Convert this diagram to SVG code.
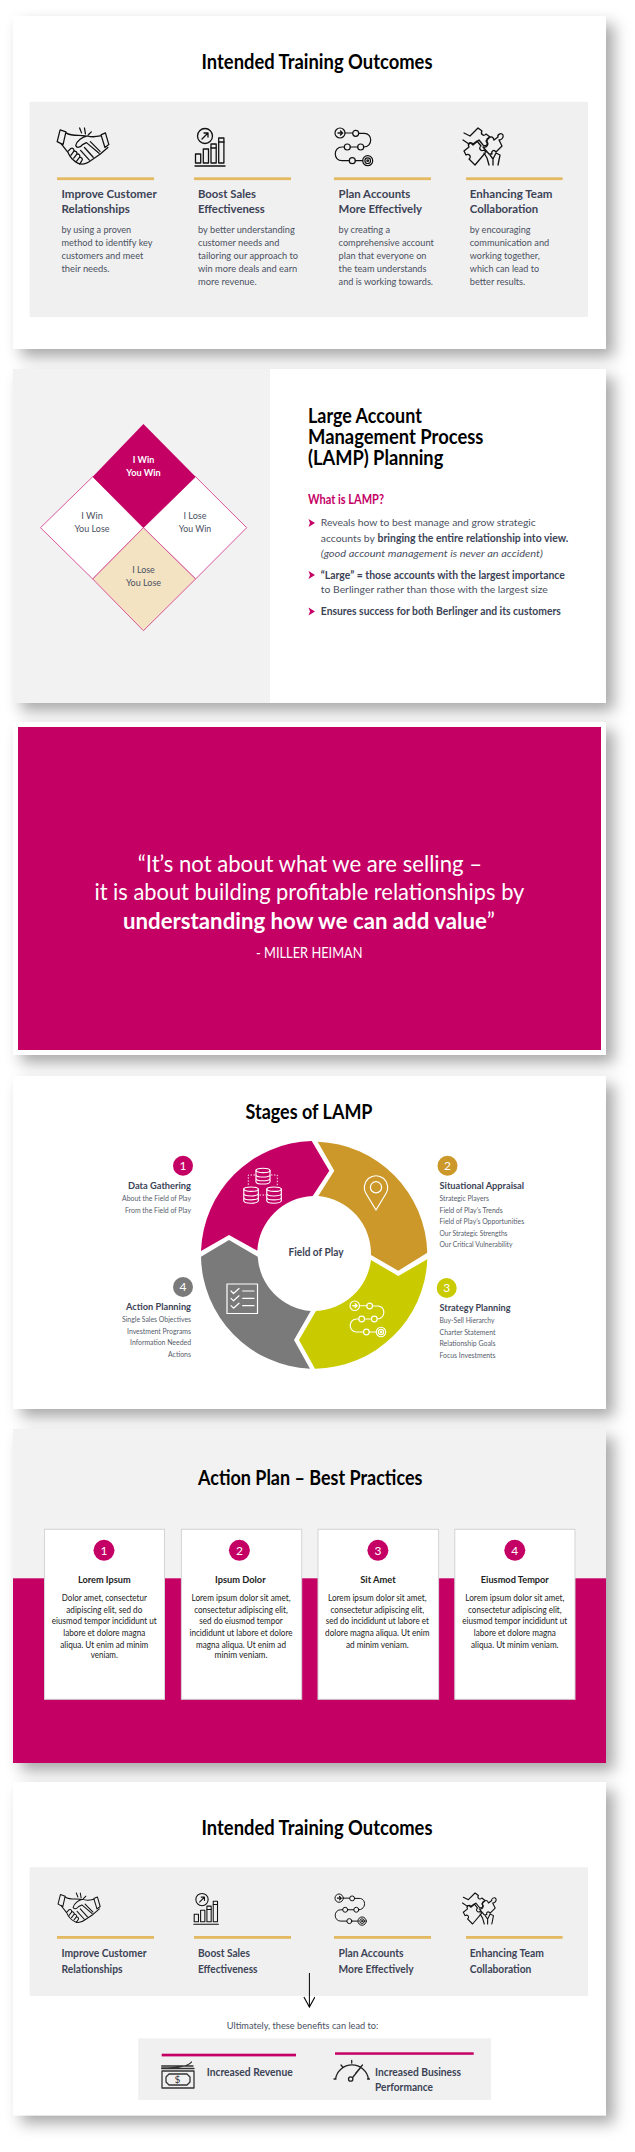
<svg xmlns="http://www.w3.org/2000/svg" xmlns:xlink="http://www.w3.org/1999/xlink" width="635" height="2152" viewBox="0 0 635 2152">
<style>
text{font-family:Lato,"Liberation Sans",sans-serif;}
.t{font-size:20px;font-weight:700;fill:#000;text-anchor:middle}
.tl{font-size:20px;font-weight:700;fill:#000}
.h{font-size:12px;font-weight:700;fill:#3c4356}
.h6{font-size:11px;font-weight:700;fill:#3c4356}
.b{font-size:10.200px;fill:#4b5162}
.gold{fill:#e3b962}
.pink{fill:#c40065}
.i{fill:none;stroke:#111;stroke-width:1.300;stroke-linecap:round;stroke-linejoin:round}
.w{fill:none;stroke:#fff;stroke-width:1.200;stroke-linecap:round;stroke-linejoin:round}
.d{font-size:9.400px;fill:#4b5162;text-anchor:middle}
.q{font-size:22.500px;fill:#fff}
.s{font-size:8px;fill:#565c6b}
.sb{font-size:8.600px;font-weight:700;fill:#3c4356}
.sb2{font-size:9.800px;font-weight:700;fill:#3c4356}
.n{font-size:12px;fill:#fff;text-anchor:middle}
.cb{font-size:8.800px;fill:#222;text-anchor:middle}
.ch{font-size:10px;font-weight:700;fill:#222;text-anchor:middle}
.end{text-anchor:end}
.lb{font-size:10.400px;fill:#4b5162}
.lbb{font-size:10.400px;font-weight:700;fill:#3c4356}
</style>
<defs>
<filter id="sh" x="-10%" y="-10%" width="125%" height="125%"><feDropShadow dx="8" dy="8" stdDeviation="7.500" flood-color="#000" flood-opacity="0.34"/></filter>
<marker id="open" viewBox="0 0 12 12" refX="11" refY="6" markerWidth="12" markerHeight="12" markerUnits="userSpaceOnUse" orient="auto"><path d="M1 0.500 L11 6 L1 11.500" fill="none" stroke="#000" stroke-width="1.100"/></marker>
<symbol id="hand" viewBox="0 0 54 39" overflow="visible">
<path class="i" d="M3 2 L0 14 L6 17 L9 4 Z M45 7 L49.500 5 L53 17 L49 20 Z M23 0 L25 5 M28 0 L29 6 M35 4 L32 7"/>
<path class="i" d="M9 5 C15 9 22 7 29 8 M45 8 C40 9 36 10 31 8 C26 9 20 13 19 18 C20 21 24 20 26 17 L30 15 L43 26"/>
<path class="i" d="M52 20 L44 27 L35 33 C30 37 25 38 21 36 C17 34 13 30 11 25 L4 16"/>
<path class="i" d="M11 24 L14 21 C16 20 18 22 17 24 L14 28 M17 24 C19 23 21 25 20 27 L17 31 M20 27 C22 26 24 28 23 30 L20 34 M23 30 C25 30 27 32 25 34 L23 37 M28 20 L37 30 M24 23 L33 33 M34 14 L44 24"/>
</symbol>
<symbol id="bars" viewBox="0 0 30 39" overflow="visible">
<circle class="i" cx="10" cy="8" r="7.500"/>
<path class="i" d="M7 11 L13 5 M9 5 H13 V9"/>
<rect class="i" x="0.500" y="26" width="5.200" height="9"/><rect class="i" x="8.300" y="21" width="5.200" height="14"/><rect class="i" x="16" y="16" width="5.200" height="19"/><rect class="i" x="23.700" y="10" width="5.200" height="25"/>
<path class="i" d="M16 20 H21 M23.700 14 H29"/>
<path class="i" d="M0 38 H30"/>
</symbol>
<symbol id="route" viewBox="0 0 38 38" overflow="visible">
<g style="fill:none;stroke:currentColor;stroke-width:1.200;stroke-linecap:round">
<circle cx="5" cy="5" r="5"/><path d="M3 5 H7 M5.500 3 L7.500 5 L5.500 7" stroke-width="1.400"/>
<circle cx="20.700" cy="5.300" r="3"/><circle cx="25.700" cy="19" r="3"/><circle cx="12.300" cy="19" r="3"/><circle cx="17.300" cy="32.700" r="3"/>
<circle cx="32.700" cy="32.700" r="5"/><circle cx="32.700" cy="32.700" r="2.800"/><circle cx="32.700" cy="32.700" r="0.800"/>
<path d="M10 5 H17.700 M23.700 5.300 H29 C38 5 38 19 28.700 19 M22.700 19 H15.300 M9.300 19 H7 C-2 19 -2 32.700 7 32.700 H14.300 M20.300 32.700 H27.700"/>
</g>
</symbol>
<symbol id="puzzle" viewBox="0 0 40 39" overflow="visible">
<path class="i" d="M1 24 L6 20 C4 17 8 14 10 17 L14 14 L18 19 C15 21 18 25 21 23 L23 25 L12 38 L6 32 C9 30 6 26 3 28 Z"/>
<path class="i" d="M1 6 L7 9 L15 1 L19 4 C17 7 21 10 23 7 L27 10 L23 14 C26 17 23 20 20 18 L16 13 L10 18 C8 16 6 15 6 17 M0 13 L6 17"/>
<path class="i" d="M24 12 C27 9 30 9 31 13 L35 10 C34 8 38 5 40 8 C41 11 38 13 36 13 L39 19 L33 25 C31 22 28 24 29 27 L26 27 L20 20 C24 21 26 17 24 15 Z"/>
<path class="i" d="M26 38 L24 31 L21 26 M27 28 L30 32 L33 26 L37 28 L35 38 M30 32 L30 38"/>
</symbol>
<symbol id="cyl" viewBox="0 0 16 17" overflow="visible">
<ellipse class="w" cx="8" cy="2.500" rx="7.500" ry="2.300"/>
<path class="w" d="M0.500 2.500 V14.500 C0.500 16 4 17 8 17 C12 17 15.500 16 15.500 14.500 V2.500 M0.500 7 C0.500 8.500 4 9.500 8 9.500 C12 9.500 15.500 8.500 15.500 7 M0.500 11 C0.500 12.500 4 13.500 8 13.500 C12 13.500 15.500 12.500 15.500 11"/>
</symbol>
</defs>
<rect width="635" height="2152" fill="#fff"/>

<g id="slide1">
<rect x="13" y="16" width="593" height="333" fill="#fff" filter="url(#sh)"/>
<text class="t" x="317" y="69" textLength="231" lengthAdjust="spacingAndGlyphs">Intended Training Outcomes</text>
<rect x="29.600" y="101.700" width="558.400" height="215.300" fill="#f0f0f0"/>
<g id="s1-improve">
<use href="#hand" x="57" y="128" width="53" height="38"/>
<rect class="gold" x="57" y="177.300" width="97" height="2.800"/>
<text class="h" x="61.500" y="198" textLength="95.200" lengthAdjust="spacingAndGlyphs">Improve Customer</text>
<text class="h" x="61.500" y="213" textLength="68.400" lengthAdjust="spacingAndGlyphs">Relationships</text>
<text class="b" x="61.500" y="232.700" textLength="69.700" lengthAdjust="spacingAndGlyphs">by using a proven</text>
<text class="b" x="61.500" y="245.500" textLength="91" lengthAdjust="spacingAndGlyphs">method to identify key</text>
<text class="b" x="61.500" y="258.500" textLength="81.800" lengthAdjust="spacingAndGlyphs">customers and meet</text>
<text class="b" x="61.500" y="271.700" textLength="48" lengthAdjust="spacingAndGlyphs">their needs.</text>
</g>
<g id="s1-boost">
<use href="#bars" x="195" y="128" width="30" height="39"/>
<rect class="gold" x="194" y="177.300" width="97" height="2.800"/>
<text class="h" x="198" y="198" textLength="58" lengthAdjust="spacingAndGlyphs">Boost Sales</text>
<text class="h" x="198" y="213" textLength="66.800" lengthAdjust="spacingAndGlyphs">Effectiveness</text>
<text class="b" x="198" y="232.700" textLength="96.800" lengthAdjust="spacingAndGlyphs">by better understanding</text>
<text class="b" x="198" y="245.500" textLength="81.400" lengthAdjust="spacingAndGlyphs">customer needs and</text>
<text class="b" x="198" y="258.500" textLength="100" lengthAdjust="spacingAndGlyphs">tailoring our approach to</text>
<text class="b" x="198" y="271.700" textLength="99.200" lengthAdjust="spacingAndGlyphs">win more deals and earn</text>
<text class="b" x="198" y="284.700" textLength="58.700" lengthAdjust="spacingAndGlyphs">more revenue.</text>
</g>
<g id="s1-plan">
<use href="#route" x="335" y="128" width="38" height="38" style="color:#111"/>
<rect class="gold" x="334" y="177.300" width="97" height="2.800"/>
<text class="h" x="338.600" y="198" textLength="71.700" lengthAdjust="spacingAndGlyphs">Plan Accounts</text>
<text class="h" x="338.600" y="213" textLength="83.400" lengthAdjust="spacingAndGlyphs">More Effectively</text>
<text class="b" x="338.600" y="232.700" textLength="51.400" lengthAdjust="spacingAndGlyphs">by creating a</text>
<text class="b" x="338.600" y="245.500" textLength="95.200" lengthAdjust="spacingAndGlyphs">comprehensive account</text>
<text class="b" x="338.600" y="258.500" textLength="87.900" lengthAdjust="spacingAndGlyphs">plan that everyone on</text>
<text class="b" x="338.600" y="271.700" textLength="87.900" lengthAdjust="spacingAndGlyphs">the team understands</text>
<text class="b" x="338.600" y="284.700" textLength="94.400" lengthAdjust="spacingAndGlyphs">and is working towards.</text>
</g>
<g id="s1-team">
<use href="#puzzle" x="463" y="127" width="40" height="39"/>
<rect class="gold" x="466" y="177.300" width="96.600" height="2.800"/>
<text class="h" x="469.800" y="198" textLength="82.600" lengthAdjust="spacingAndGlyphs">Enhancing Team</text>
<text class="h" x="469.800" y="213" textLength="68.400" lengthAdjust="spacingAndGlyphs">Collaboration</text>
<text class="b" x="469.800" y="232.700" textLength="60.800" lengthAdjust="spacingAndGlyphs">by encouraging</text>
<text class="b" x="469.800" y="245.500" textLength="79.400" lengthAdjust="spacingAndGlyphs">communication and</text>
<text class="b" x="469.800" y="258.500" textLength="70" lengthAdjust="spacingAndGlyphs">working together,</text>
<text class="b" x="469.800" y="271.700" textLength="69.300" lengthAdjust="spacingAndGlyphs">which can lead to</text>
<text class="b" x="469.800" y="284.700" textLength="55.500" lengthAdjust="spacingAndGlyphs">better results.</text>
</g>
</g>

<g id="slide2">
<rect x="13" y="369" width="593" height="334" fill="#fff" filter="url(#sh)"/>
<rect x="13" y="369" width="257" height="334" fill="#f2f2f2"/>
<g id="q-win-lose"><path d="M92.700 476.700 L40.500 527.700 L92.700 579 L143.400 527.700 Z" fill="#fff" stroke="#d9559b"/>
<text class="d" x="92" y="519.300" textLength="21.500" lengthAdjust="spacingAndGlyphs">I Win</text><text class="d" x="92" y="532.300" textLength="35.200" lengthAdjust="spacingAndGlyphs">You Lose</text></g>
<g id="q-lose-win"><path d="M195.600 476.700 L246.700 527.700 L195.600 579 L143.400 527.700 Z" fill="#fff" stroke="#d9559b"/>
<text class="d" x="195" y="519.300" textLength="23" lengthAdjust="spacingAndGlyphs">I Lose</text><text class="d" x="195" y="532.300" textLength="32.400" lengthAdjust="spacingAndGlyphs">You Win</text></g>
<g id="q-lose-lose"><path d="M143.400 527.700 L195.600 579 L143.400 630.700 L92.700 579 Z" fill="#f3e3c2" stroke="#d9559b"/>
<text class="d" x="143.500" y="572.700" textLength="22.700" lengthAdjust="spacingAndGlyphs">I Lose</text><text class="d" x="143.500" y="585.700" textLength="35.200" lengthAdjust="spacingAndGlyphs">You Lose</text></g>
<g id="q-win-win"><path class="pink" d="M143.400 424 L195.600 476.700 L143.400 527.700 L92.700 476.700 Z"/>
<text class="d" style="fill:#fff;font-weight:700" x="143.500" y="462.700" textLength="21.500" lengthAdjust="spacingAndGlyphs">I Win</text><text class="d" style="fill:#fff;font-weight:700" x="143.500" y="475.700" textLength="34.400" lengthAdjust="spacingAndGlyphs">You Win</text></g>
<g id="lamp-text">
<text class="tl" x="308" y="422.700" textLength="113.800" lengthAdjust="spacingAndGlyphs">Large Account</text>
<text class="tl" x="308" y="444" textLength="175.400" lengthAdjust="spacingAndGlyphs">Management Process</text>
<text class="tl" x="308" y="465.300" textLength="135.300" lengthAdjust="spacingAndGlyphs">(LAMP) Planning</text>
<text x="308" y="503.700" font-size="13" font-weight="700" fill="#c40065" textLength="76" lengthAdjust="spacingAndGlyphs">What is LAMP?</text>
<path class="pink" d="M308.500 519 L315 523 L308.500 527 L310 523 Z M308.500 571 L315 575 L308.500 579 L310 575 Z M308.500 607.500 L315 611.500 L308.500 615.500 L310 611.500 Z"/>
<text class="lb" x="320.800" y="526.300" textLength="215" lengthAdjust="spacingAndGlyphs">Reveals how to best manage and grow strategic</text>
<text class="lb" x="320.800" y="541.700" textLength="54" lengthAdjust="spacingAndGlyphs">accounts by</text>
<text class="lbb" x="377.500" y="541.700" textLength="190.800" lengthAdjust="spacingAndGlyphs">bringing the entire relationship into view.</text>
<text class="lb" x="320.800" y="556.700" font-style="italic" textLength="222" lengthAdjust="spacingAndGlyphs">(good account management is never an accident)</text>
<text class="lbb" x="320.800" y="578.700" textLength="244" lengthAdjust="spacingAndGlyphs">“Large” = those accounts with the largest importance</text>
<text class="lb" x="320.800" y="593" textLength="227" lengthAdjust="spacingAndGlyphs">to Berlinger rather than those with the largest size</text>
<text class="lbb" x="320.800" y="615" textLength="240" lengthAdjust="spacingAndGlyphs">Ensures success for both Berlinger and its customers</text>
</g>
</g>

<g id="slide3">
<rect x="13" y="722" width="593" height="333" fill="#fff" filter="url(#sh)"/>
<rect class="pink" x="18" y="727" width="583" height="323"/>
<g id="quote">
<text class="q" x="137.700" y="871.700" textLength="344.300" lengthAdjust="spacingAndGlyphs">“It’s not about what we are selling –</text>
<text class="q" x="94.400" y="900" textLength="430" lengthAdjust="spacingAndGlyphs">it is about building profitable relationships by</text>
<text class="q" x="123" y="928.700" textLength="372" lengthAdjust="spacingAndGlyphs"><tspan font-weight="700">understanding how we can add value</tspan>”</text>
<text class="q" x="256" y="958" style="font-size:15px" textLength="106.500" lengthAdjust="spacingAndGlyphs">- MILLER HEIMAN</text>
</g>
</g>

<g id="slide4">
<rect x="13" y="1076" width="593" height="333" fill="#fff" filter="url(#sh)"/>
<text class="t" x="309" y="1119.300" textLength="127" lengthAdjust="spacingAndGlyphs">Stages of LAMP</text>
<g id="seg1-data-gathering">
<path class="pink" d="M311.700 1141 L329.300 1170.700 L312.700 1196 A58 58 0 0 0 257.300 1250.700 L229 1235 L201 1251 A114 114 0 0 1 311.700 1141 Z"/>
<use href="#cyl" x="255.500" y="1167.300" width="15" height="17.500"/><use href="#cyl" x="243.300" y="1186.500" width="15.500" height="17"/><use href="#cyl" x="266.300" y="1186.500" width="15.500" height="17"/>
<path d="M255 1175 H248.300 V1186 M271 1175 H277.300 V1186 M259.500 1195 H266" fill="none" stroke="#fff" stroke-width="0.900" stroke-dasharray="1.500 1.500"/>
<circle class="pink" cx="183" cy="1165.700" r="10"/><text class="n" x="183" y="1170">1</text>
<text class="sb end" x="191" y="1189" textLength="63" lengthAdjust="spacingAndGlyphs">Data Gathering</text>
<text class="s end" x="191" y="1201" textLength="69" lengthAdjust="spacingAndGlyphs">About the Field of Play</text>
<text class="s end" x="191" y="1212.700" textLength="66" lengthAdjust="spacingAndGlyphs">From the Field of Play</text>
</g>
<g id="seg2-situational-appraisal">
<path fill="#cc9829" d="M317.700 1141.700 A114 114 0 0 1 427.300 1252.700 L398.300 1270.700 L371 1255 A58 58 0 0 0 318.300 1196 L334.300 1170.700 Z"/>
<path class="w" d="M376 1210 L366 1193.500 A11.700 11.700 0 1 1 386 1193.500 Z"/><circle class="w" cx="376" cy="1187.300" r="5.600"/>
<circle cx="447.500" cy="1165.700" r="10" fill="#cc9829"/><text class="n" x="447.500" y="1170">2</text>
<text class="sb" x="439.500" y="1189" textLength="84.600" lengthAdjust="spacingAndGlyphs">Situational Appraisal</text>
<text class="s" x="439.500" y="1201" textLength="49.400" lengthAdjust="spacingAndGlyphs">Strategic Players</text>
<text class="s" x="439.500" y="1212.700" textLength="63.200" lengthAdjust="spacingAndGlyphs">Field of Play’s Trends</text>
<text class="s" x="439.500" y="1224" textLength="84.600" lengthAdjust="spacingAndGlyphs">Field of Play’s Opportunities</text>
<text class="s" x="439.500" y="1235.700" textLength="68" lengthAdjust="spacingAndGlyphs">Our Strategic Strengths</text>
<text class="s" x="439.500" y="1247" textLength="73" lengthAdjust="spacingAndGlyphs">Our Critical Vulnerability</text>
</g>
<g id="seg3-strategy-planning">
<path fill="#c9cb00" d="M427.300 1259.300 A114 114 0 0 1 315 1368.700 L299 1340 L316 1311 A58 58 0 0 0 371 1260 L398.300 1276 Z"/>
<use href="#route" x="350" y="1301" width="36" height="36" style="color:#fff"/>
<circle cx="446.700" cy="1288" r="10" fill="#c9cb00"/><text class="n" x="446.700" y="1292.300">3</text>
<text class="sb2" x="439.500" y="1310.700" textLength="71" lengthAdjust="spacingAndGlyphs">Strategy Planning</text>
<text class="s" x="439.500" y="1323" textLength="55" lengthAdjust="spacingAndGlyphs">Buy-Sell Hierarchy</text>
<text class="s" x="439.500" y="1334.700" textLength="56" lengthAdjust="spacingAndGlyphs">Charter Statement</text>
<text class="s" x="439.500" y="1346" textLength="56" lengthAdjust="spacingAndGlyphs">Relationship Goals</text>
<text class="s" x="439.500" y="1357.700" textLength="56" lengthAdjust="spacingAndGlyphs">Focus Investments</text>
</g>
<g id="seg4-action-planning">
<path fill="#7a7a7a" d="M310 1368.700 A114 114 0 0 1 201 1256.700 L229 1240 L257.700 1256.700 A58 58 0 0 0 310.700 1311 L294 1340 Z"/>
<g class="w"><rect x="227" y="1284" width="30.500" height="29.500"/><path d="M231 1291 L233.500 1293.500 L239 1288.500 M231 1298.300 L233.500 1300.800 L239 1295.800 M231 1305.700 L233.500 1308.200 L239 1303.200 M242.700 1291 H254 M242.700 1298.300 H254 M242.700 1305.700 H254"/></g>
<circle cx="183" cy="1287" r="10" fill="#7a7a7a"/><text class="n" x="183" y="1291.300">4</text>
<text class="sb2 end" x="191" y="1309.700" textLength="65" lengthAdjust="spacingAndGlyphs">Action Planning</text>
<text class="s end" x="191" y="1322" textLength="69" lengthAdjust="spacingAndGlyphs">Single Sales Objectives</text>
<text class="s end" x="191" y="1333.700" textLength="64" lengthAdjust="spacingAndGlyphs">Investment Programs</text>
<text class="s end" x="191" y="1345" textLength="61" lengthAdjust="spacingAndGlyphs">Information Needed</text>
<text class="s end" x="191" y="1356.700" textLength="23" lengthAdjust="spacingAndGlyphs">Actions</text>
</g>
<g id="field-of-play"><text x="316" y="1256" font-size="11.500" font-weight="700" fill="#3c4356" text-anchor="middle" textLength="55" lengthAdjust="spacingAndGlyphs">Field of Play</text></g>
</g>

<g id="slide5">
<rect x="13" y="1429" width="593" height="334" fill="#c40065" filter="url(#sh)"/>
<rect x="13" y="1429" width="593" height="149.300" fill="#f2f2f2"/>
<text class="t" x="310.200" y="1485" textLength="224.400" lengthAdjust="spacingAndGlyphs">Action Plan – Best Practices</text>
<g id="card1"><rect x="44.500" y="1529.300" width="120" height="170" fill="#fff" stroke="#d4d4d4"/>
<circle class="pink" cx="104" cy="1550.300" r="10.500"/><text class="n" x="104" y="1554.700">1</text>
<text class="ch" x="104.300" y="1583" textLength="52.600" lengthAdjust="spacingAndGlyphs">Lorem Ipsum</text>
<text class="cb" x="104.300" y="1601" textLength="85" lengthAdjust="spacingAndGlyphs">Dolor amet, consectetur</text>
<text class="cb" x="104.300" y="1612.700" textLength="76" lengthAdjust="spacingAndGlyphs">adipiscing elit, sed do</text>
<text class="cb" x="104.300" y="1624" textLength="105" lengthAdjust="spacingAndGlyphs">eiusmod tempor incididunt ut</text>
<text class="cb" x="104.300" y="1636" textLength="82" lengthAdjust="spacingAndGlyphs">labore et dolore magna</text>
<text class="cb" x="104.300" y="1647.700" textLength="88" lengthAdjust="spacingAndGlyphs">aliqua. Ut enim ad minim</text>
<text class="cb" x="104.300" y="1658" textLength="27" lengthAdjust="spacingAndGlyphs">veniam.</text></g>
<g id="card2"><rect x="181.400" y="1529.300" width="120.300" height="170" fill="#fff" stroke="#d4d4d4"/>
<circle class="pink" cx="239.400" cy="1550.300" r="10.500"/><text class="n" x="239.400" y="1554.700">2</text>
<text class="ch" x="240.300" y="1583" textLength="50.600" lengthAdjust="spacingAndGlyphs">Ipsum Dolor</text>
<text class="cb" x="241" y="1601" textLength="99" lengthAdjust="spacingAndGlyphs">Lorem ipsum dolor sit amet,</text>
<text class="cb" x="241" y="1612.700" textLength="93.500" lengthAdjust="spacingAndGlyphs">consectetur adipiscing elit,</text>
<text class="cb" x="241" y="1624" textLength="83.400" lengthAdjust="spacingAndGlyphs">sed do eiusmod tempor</text>
<text class="cb" x="241" y="1636" textLength="103" lengthAdjust="spacingAndGlyphs">incididunt ut labore et dolore</text>
<text class="cb" x="241" y="1647.700" textLength="90" lengthAdjust="spacingAndGlyphs">magna aliqua. Ut enim ad</text>
<text class="cb" x="241" y="1658" textLength="53" lengthAdjust="spacingAndGlyphs">minim veniam.</text></g>
<g id="card3"><rect x="318" y="1529.300" width="120.600" height="170" fill="#fff" stroke="#d4d4d4"/>
<circle class="pink" cx="377.900" cy="1550.300" r="10.500"/><text class="n" x="377.900" y="1554.700">3</text>
<text class="ch" x="378" y="1583" textLength="35.600" lengthAdjust="spacingAndGlyphs">Sit Amet</text>
<text class="cb" x="377.300" y="1601" textLength="98.400" lengthAdjust="spacingAndGlyphs">Lorem ipsum dolor sit amet,</text>
<text class="cb" x="377.300" y="1612.700" textLength="93.500" lengthAdjust="spacingAndGlyphs">consectetur adipiscing elit,</text>
<text class="cb" x="377.300" y="1624" textLength="103" lengthAdjust="spacingAndGlyphs">sed do incididunt ut labore et</text>
<text class="cb" x="377.300" y="1636" textLength="104.500" lengthAdjust="spacingAndGlyphs">dolore magna aliqua. Ut enim</text>
<text class="cb" x="377.300" y="1647.700" textLength="62.800" lengthAdjust="spacingAndGlyphs">ad minim veniam.</text></g>
<g id="card4"><rect x="454.800" y="1529.300" width="120.200" height="170" fill="#fff" stroke="#d4d4d4"/>
<circle class="pink" cx="514.800" cy="1550.300" r="10.500"/><text class="n" x="514.800" y="1554.700">4</text>
<text class="ch" x="514.800" y="1583" textLength="68" lengthAdjust="spacingAndGlyphs">Eiusmod Tempor</text>
<text class="cb" x="514.800" y="1601" textLength="99" lengthAdjust="spacingAndGlyphs">Lorem ipsum dolor sit amet,</text>
<text class="cb" x="514.800" y="1612.700" textLength="93.500" lengthAdjust="spacingAndGlyphs">consectetur adipiscing elit,</text>
<text class="cb" x="514.800" y="1624" textLength="105" lengthAdjust="spacingAndGlyphs">eiusmod tempor incididunt ut</text>
<text class="cb" x="514.800" y="1636" textLength="82" lengthAdjust="spacingAndGlyphs">labore et dolore magna</text>
<text class="cb" x="514.800" y="1647.700" textLength="87.500" lengthAdjust="spacingAndGlyphs">aliqua. Ut minim veniam.</text></g>
</g>

<g id="slide6">
<rect x="13" y="1782" width="593" height="333.300" fill="#fff" filter="url(#sh)"/>
<text class="t" x="317" y="1835.300" textLength="231" lengthAdjust="spacingAndGlyphs">Intended Training Outcomes</text>
<rect x="29.600" y="1867.300" width="558.400" height="128.700" fill="#f0f0f0"/>
<g id="s6-improve"><use href="#hand" x="57.500" y="1893" width="44" height="31"/><rect class="gold" x="57" y="1936" width="97" height="2.800"/>
<text class="h6" x="61.500" y="1957.300" textLength="85" lengthAdjust="spacingAndGlyphs">Improve Customer</text>
<text class="h6" x="61.500" y="1972.700" textLength="61" lengthAdjust="spacingAndGlyphs">Relationships</text></g>
<g id="s6-boost"><use href="#bars" x="193.600" y="1893" width="25" height="32"/><rect class="gold" x="194" y="1936" width="97" height="2.800"/>
<text class="h6" x="198" y="1957.300" textLength="52" lengthAdjust="spacingAndGlyphs">Boost Sales</text>
<text class="h6" x="198" y="1972.700" textLength="59.500" lengthAdjust="spacingAndGlyphs">Effectiveness</text></g>
<g id="s6-plan"><use href="#route" x="335" y="1894" width="31.500" height="31.500" style="color:#111"/><rect class="gold" x="334" y="1936" width="97" height="2.800"/>
<text class="h6" x="338.600" y="1957.300" textLength="65" lengthAdjust="spacingAndGlyphs">Plan Accounts</text>
<text class="h6" x="338.600" y="1972.700" textLength="75" lengthAdjust="spacingAndGlyphs">More Effectively</text></g>
<g id="s6-team"><use href="#puzzle" x="462.500" y="1892" width="33.500" height="33"/><rect class="gold" x="466" y="1936" width="96.600" height="2.800"/>
<text class="h6" x="469.800" y="1957.300" textLength="74" lengthAdjust="spacingAndGlyphs">Enhancing Team</text>
<text class="h6" x="469.800" y="1972.700" textLength="61.500" lengthAdjust="spacingAndGlyphs">Collaboration</text></g>
<text x="226.800" y="2028.700" font-size="9.800" fill="#4b5162" textLength="151.500" lengthAdjust="spacingAndGlyphs">Ultimately, these benefits can lead to:</text>
<rect x="138.300" y="2038.300" width="352.700" height="61.700" fill="#f0f0f0"/>
<g id="revenue">
<rect class="pink" x="161.700" y="2053.700" width="134.300" height="2.700"/>
<path class="i" style="stroke:#333" d="M161.700 2068.500 H194 M161.700 2066 H193 M161.700 2068 C175 2068 188 2067 191.500 2062"/>
<rect class="i" style="stroke:#333" x="162" y="2071" width="32" height="17"/>
<path class="i" style="stroke:#333" d="M169 2074 H187 L190 2077 V2082 L187 2085 H169 L166 2082 V2077 Z"/>
<text x="177.500" y="2083" font-size="10" fill="#333" text-anchor="middle">$</text>
<text class="h6" x="206.700" y="2076" textLength="86" lengthAdjust="spacingAndGlyphs">Increased Revenue</text>
</g>
<g id="performance">
<rect class="pink" x="335" y="2052.300" width="138.700" height="2.500"/>
<path class="i" style="stroke:#222" d="M335.500 2079 A16.700 16.700 0 0 1 368.500 2079 M334 2079 H336 M367.500 2079 H369.500 M351.700 2060.500 V2063 M341 2065 L342.700 2067 M362.500 2065 L360.700 2067 M355.500 2073.500 L361 2067 L353 2077"/>
<circle class="i" style="stroke:#222" cx="350.700" cy="2079" r="2.200"/>
<text class="h6" x="375" y="2076" textLength="86" lengthAdjust="spacingAndGlyphs">Increased Business</text>
<text class="h6" x="375" y="2091" textLength="58" lengthAdjust="spacingAndGlyphs">Performance</text>
</g>
</g>

<g id="connectors">
<path d="M309.400 1973 V2007" fill="none" stroke="#000" stroke-width="1" marker-end="url(#open)"/>
</g>
</svg>
